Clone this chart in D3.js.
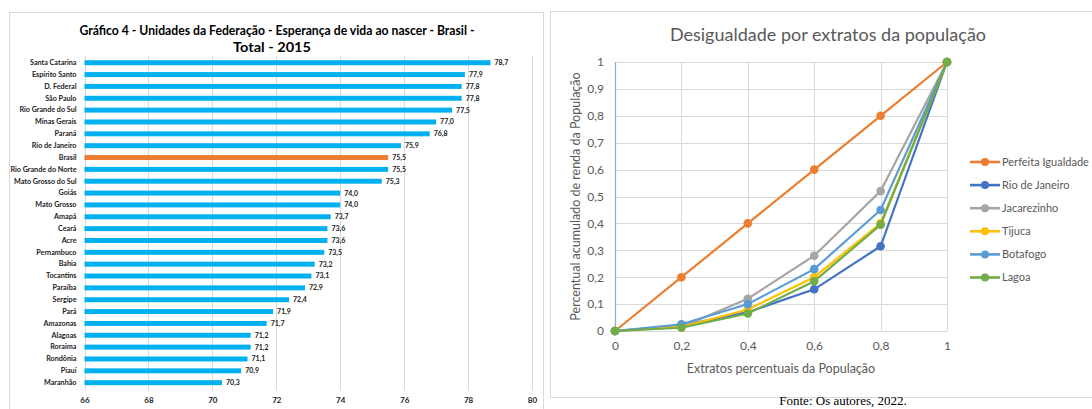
<!DOCTYPE html>
<html><head><meta charset="utf-8">
<script src="https://cdn.jsdelivr.net/npm/d3@7"></script>
<style>body{margin:0;background:#fff}svg{display:block}</style>
</head><body>
<svg id="c" width="1092" height="409"></svg>
<script>
// ---- Left chart data ----
const states = ["Santa Catarina","Espírito Santo","D. Federal","São Paulo","Rio Grande do Sul","Minas Gerais","Paraná","Rio de Janeiro","Brasil","Rio Grande do Norte","Mato Grosso do Sul","Goiás","Mato Grosso","Amapá","Ceará","Acre","Pernambuco","Bahia","Tocantins","Paraíba","Sergipe","Pará","Amazonas","Alagoas","Roraima","Rondônia","Piauí","Maranhão"];
const lifeExp = [78.7,77.9,77.8,77.8,77.5,77.0,76.8,75.9,75.5,75.5,75.3,74.0,74.0,73.7,73.6,73.6,73.5,73.2,73.1,72.9,72.4,71.9,71.7,71.2,71.2,71.1,70.9,70.3];
const lifeTicks = [66,68,70,72,74,76,78,80];
const highlight = "Brasil";

// ---- Right chart data ----
const strata = [0,0.2,0.4,0.6,0.8,1];
const seriesNames = ["Perfeita Igualdade","Rio de Janeiro","Jacarezinho","Tijuca","Botafogo","Lagoa"];
const perfeita = [0,0.2,0.4,0.6,0.8,1];
const rioJaneiro = [0,0.02,0.07,0.155,0.315,1];
const jacarezinho = [0,0.015,0.12,0.28,0.52,1];
const tijuca = [0,0.015,0.08,0.2,0.4,1];
const botafogo = [0,0.025,0.1,0.23,0.45,1];
const lagoa = [0,0.012,0.065,0.185,0.395,1];
const seriesColors = ["#ED7D31","#4472C4","#A5A5A5","#FFC000","#5B9BD5","#70AD47"];
const yTicksR = [0,0.1,0.2,0.3,0.4,0.5,0.6,0.7,0.8,0.9,1];
const xTicksR = [0,0.2,0.4,0.6,0.8,1];

const svg = d3.select("#c");
const fmt = d => String(+d.toFixed(1)).replace(".", ",");
const fmt1 = d => d.toFixed(1).replace(".", ",");

// ================= LEFT CHART =================
const L = svg.append("g");
L.append("rect").attr("x",9.5).attr("y",12.5).attr("width",534).attr("height",420)
  .attr("fill","#fff").attr("stroke","#d9d9d9");
L.append("text").attr("x",277).attr("y",35).attr("text-anchor","middle")
  .attr("font-family","Lato, sans-serif").attr("font-weight","bold").attr("font-size",13.5)
  .attr("textLength",395).attr("lengthAdjust","spacingAndGlyphs").attr("fill","#000")
  .text("Gráfico 4 - Unidades da Federação - Esperança de vida ao nascer - Brasil -");
L.append("text").attr("x",272).attr("y",52).attr("text-anchor","middle")
  .attr("font-family","Lato, sans-serif").attr("font-weight","bold").attr("font-size",13.5)
  .attr("textLength",78).attr("lengthAdjust","spacingAndGlyphs").attr("fill","#000")
  .text("Total - 2015");

const xL = d3.scaleLinear().domain([66,80]).range([84.5,532]);
const yL = d3.scaleBand().domain(states).range([56.8, 56.8 + 11.85*states.length]).paddingInner(0.58).paddingOuter(0.29);

L.append("g").selectAll("line").data(lifeTicks).join("line")
  .attr("x1",d=>Math.round(xL(d))+0.5).attr("x2",d=>Math.round(xL(d))+0.5).attr("y1",56).attr("y2",yL.range()[1]+2)
  .attr("stroke","#d9d9d9").attr("stroke-width",1);

L.append("g").selectAll("rect").data(states).join("rect")
  .attr("x",xL(66)).attr("y",d=>yL(d)).attr("height",yL.bandwidth())
  .attr("width",(d,i)=>xL(lifeExp[i])-xL(66))
  .attr("fill",d=>d===highlight?"#ED7D31":"#00B0F0");

L.append("g").selectAll("text").data(states).join("text")
  .attr("x",(d,i)=>xL(lifeExp[i])+4).attr("y",d=>yL(d)+yL.bandwidth()/2)
  .attr("dy","0.35em").attr("font-family","Lato, sans-serif").attr("font-weight","bold")
  .attr("font-size",7).attr("fill","#222")
  .text((d,i)=>fmt1(lifeExp[i]));

const yAxL = L.append("g").attr("transform",`translate(${xL(66)-8},0)`)
  .call(d3.axisLeft(yL).tickSize(0).tickPadding(0));
yAxL.select(".domain").remove();
yAxL.selectAll("text").attr("font-family","Lato, sans-serif").attr("font-weight","bold")
  .attr("font-size",7.2).attr("fill","#222");

const xAxL = L.append("g").attr("transform",`translate(0,${yL.range()[1]+3})`)
  .call(d3.axisBottom(xL).tickValues(lifeTicks).tickSize(0).tickPadding(6).tickFormat(d3.format("d")));
xAxL.select(".domain").remove();
xAxL.selectAll("text").attr("font-family","Lato, sans-serif").attr("font-weight","bold")
  .attr("font-size",8).attr("fill","#222");

// ================= RIGHT CHART =================
const R = svg.append("g");
R.append("rect").attr("x",550.5).attr("y",11.5).attr("width",600).attr("height",386)
  .attr("fill","#fff").attr("stroke","#d9d9d9");
R.append("text").attr("x",828).attr("y",41).attr("text-anchor","middle")
  .attr("font-family","Lato, sans-serif").attr("font-size",18).attr("fill","#595959")
  .text("Desigualdade por extratos da população");

const xR = d3.scaleLinear().domain([0,1]).range([615,947]);
const yR = d3.scaleLinear().domain([0,1]).range([331,62]);

R.append("g").selectAll("line").data(yTicksR).join("line")
  .attr("x1",xR(0)).attr("x2",xR(1)).attr("y1",d=>Math.round(yR(d))+0.5).attr("y2",d=>Math.round(yR(d))+0.5)
  .attr("stroke","#d9d9d9");
R.append("g").selectAll("line").data(xTicksR.slice(1)).join("line")
  .attr("x1",d=>Math.round(xR(d))+0.5).attr("x2",d=>Math.round(xR(d))+0.5).attr("y1",yR(1)).attr("y2",yR(0))
  .attr("stroke","#d9d9d9");
R.append("line").attr("x1",xR(0)+0.5).attr("x2",xR(0)+0.5).attr("y1",yR(1)).attr("y2",yR(0))
  .attr("stroke","#8FAADC").attr("stroke-width",1.2);

const yAxR = R.append("g").attr("transform",`translate(${xR(0)-11},0)`)
  .call(d3.axisLeft(yR).tickValues(yTicksR).tickSize(0).tickPadding(0).tickFormat(fmt));
yAxR.select(".domain").remove();
yAxR.selectAll("text").attr("font-family","Lato, sans-serif").attr("font-size",12).attr("fill","#595959");

const xAxR = R.append("g").attr("transform",`translate(0,${yR(0)+10})`)
  .call(d3.axisBottom(xR).tickValues(xTicksR).tickSize(0).tickPadding(0).tickFormat(fmt));
xAxR.select(".domain").remove();
xAxR.selectAll("text").attr("font-family","Lato, sans-serif").attr("font-size",12).attr("fill","#595959");

R.append("text").attr("x",781).attr("y",373).attr("text-anchor","middle")
  .attr("font-family","Lato, sans-serif").attr("font-size",12.5).attr("fill","#595959")
  .text("Extratos percentuais da População");
R.append("text").attr("transform",`translate(580,${(yR(0)+yR(1))/2}) rotate(-90)`)
  .attr("text-anchor","middle").attr("font-family","Lato, sans-serif").attr("font-size",12.5).attr("fill","#595959")
  .text("Percentual acumulado de renda da População");

const allSeries = [perfeita, rioJaneiro, jacarezinho, tijuca, botafogo, lagoa];
const line = d3.line().x((d,i)=>xR(strata[i])).y(d=>yR(d));
allSeries.forEach((vals,k)=>{
  const g = R.append("g");
  g.append("path").attr("d",line(vals)).attr("fill","none")
    .attr("stroke",seriesColors[k]).attr("stroke-width",2.2);
  g.selectAll("circle").data(vals).join("circle")
    .attr("cx",(d,i)=>xR(strata[i])).attr("cy",d=>yR(d)).attr("r",4.3)
    .attr("fill",seriesColors[k]);
});

// Legend
const leg = R.append("g");
seriesNames.forEach((n,k)=>{
  const y = 162 + k*23.1;
  leg.append("line").attr("x1",970).attr("x2",1000).attr("y1",y).attr("y2",y)
    .attr("stroke",seriesColors[k]).attr("stroke-width",2.6);
  leg.append("circle").attr("cx",985).attr("cy",y).attr("r",4).attr("fill",seriesColors[k]);
  leg.append("text").attr("x",1002).attr("y",y).attr("dy","0.35em")
    .attr("font-family","Lato, sans-serif").attr("font-size",11).attr("fill","#595959").text(n);
});

svg.append("text").attr("x",843).attr("y",405).attr("text-anchor","middle")
  .attr("font-family","Liberation Serif, serif").attr("font-size",13).attr("fill","#000")
  .text("Fonte: Os autores, 2022.");
</script>
</body></html>
